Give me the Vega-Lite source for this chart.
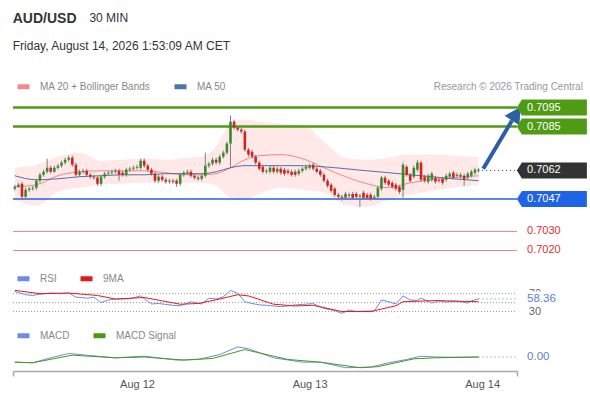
{
  "$schema": "https://vega.github.io/schema/vega-lite/v6.json",
  "padding": {"left": 11, "top": 12, "right": 5, "bottom": 8},
  "background": "white",
  "title": {
    "text": "AUD/USD",
    "subtitle": ["\u200b\u00a0\u00a0\u00a0\u00a0\u00a0\u00a0\u00a0\u00a0\u00a0\u00a0\u00a0\u00a0\u00a0\u00a0\u00a0\u00a0\u00a0\u00a0\u00a0\u00a0\u00a0\u00a0\u00a030 MIN", "Friday, August 14, 2026 1:53:09 AM CET"],
    "anchor": "start",
    "dx": 1,
    "fontSize": 14,
    "fontWeight": "bold",
    "color": "#333333",
    "subtitleFontSize": 12,
    "subtitleColor": "#333333",
    "subtitleLineHeight": 28,
    "subtitlePadding": -13,
    "offset": 26
  },
  "datasets": {
    "candles": [
      {"i": -34, "o": 0.70524, "h": 0.70545, "l": 0.70513, "c": 0.70534},
      {"i": -33, "o": 0.70534, "h": 0.70555, "l": 0.70529, "c": 0.70545},
      {"i": -32, "o": 0.70550, "h": 0.70561, "l": 0.70471, "c": 0.70482},
      {"i": -31, "o": 0.70482, "h": 0.70529, "l": 0.70471, "c": 0.70518},
      {"i": -30, "o": 0.70518, "h": 0.70534, "l": 0.70508, "c": 0.70524},
      {"i": -29, "o": 0.70524, "h": 0.70539, "l": 0.70513, "c": 0.70529},
      {"i": -28, "o": 0.70529, "h": 0.70576, "l": 0.70518, "c": 0.70566},
      {"i": -27, "o": 0.70566, "h": 0.70608, "l": 0.70555, "c": 0.70597},
      {"i": -26, "o": 0.70597, "h": 0.70624, "l": 0.70587, "c": 0.70613},
      {"i": -25, "o": 0.70613, "h": 0.70682, "l": 0.70603, "c": 0.70634},
      {"i": -24, "o": 0.70634, "h": 0.70645, "l": 0.70603, "c": 0.70613},
      {"i": -23, "o": 0.70613, "h": 0.70645, "l": 0.70608, "c": 0.70634},
      {"i": -22, "o": 0.70634, "h": 0.70655, "l": 0.70624, "c": 0.70645},
      {"i": -21, "o": 0.70645, "h": 0.70671, "l": 0.70634, "c": 0.70661},
      {"i": -20, "o": 0.70661, "h": 0.70687, "l": 0.70650, "c": 0.70676},
      {"i": -19, "o": 0.70676, "h": 0.70697, "l": 0.70666, "c": 0.70687},
      {"i": -18, "o": 0.70687, "h": 0.70697, "l": 0.70639, "c": 0.70650},
      {"i": -17, "o": 0.70650, "h": 0.70661, "l": 0.70587, "c": 0.70597},
      {"i": -16, "o": 0.70597, "h": 0.70624, "l": 0.70587, "c": 0.70613},
      {"i": -15, "o": 0.70613, "h": 0.70629, "l": 0.70603, "c": 0.70618},
      {"i": -14, "o": 0.70618, "h": 0.70629, "l": 0.70587, "c": 0.70597},
      {"i": -13, "o": 0.70597, "h": 0.70608, "l": 0.70576, "c": 0.70587},
      {"i": -12, "o": 0.70587, "h": 0.70597, "l": 0.70571, "c": 0.70582},
      {"i": -11, "o": 0.70582, "h": 0.70592, "l": 0.70539, "c": 0.70550},
      {"i": -10, "o": 0.70550, "h": 0.70597, "l": 0.70539, "c": 0.70587},
      {"i": -9, "o": 0.70587, "h": 0.70613, "l": 0.70576, "c": 0.70603},
      {"i": -8, "o": 0.70603, "h": 0.70618, "l": 0.70592, "c": 0.70608},
      {"i": -7, "o": 0.70608, "h": 0.70624, "l": 0.70597, "c": 0.70613},
      {"i": -6, "o": 0.70613, "h": 0.70629, "l": 0.70603, "c": 0.70618},
      {"i": -5, "o": 0.70618, "h": 0.70629, "l": 0.70566, "c": 0.70597},
      {"i": -4, "o": 0.70608, "h": 0.70618, "l": 0.70587, "c": 0.70597},
      {"i": -3, "o": 0.70597, "h": 0.70634, "l": 0.70587, "c": 0.70624},
      {"i": -2, "o": 0.70624, "h": 0.70639, "l": 0.70613, "c": 0.70629},
      {"i": -1, "o": 0.70629, "h": 0.70645, "l": 0.70618, "c": 0.70634},
      {"i": 0, "o": 0.70634, "h": 0.70650, "l": 0.70624, "c": 0.70639},
      {"i": 1, "o": 0.70634, "h": 0.70682, "l": 0.70624, "c": 0.70671},
      {"i": 2, "o": 0.70671, "h": 0.70682, "l": 0.70634, "c": 0.70645},
      {"i": 3, "o": 0.70645, "h": 0.70655, "l": 0.70613, "c": 0.70624},
      {"i": 4, "o": 0.70624, "h": 0.70634, "l": 0.70592, "c": 0.70603},
      {"i": 5, "o": 0.70603, "h": 0.70613, "l": 0.70555, "c": 0.70566},
      {"i": 6, "o": 0.70566, "h": 0.70597, "l": 0.70555, "c": 0.70587},
      {"i": 7, "o": 0.70587, "h": 0.70597, "l": 0.70561, "c": 0.70571},
      {"i": 8, "o": 0.70571, "h": 0.70582, "l": 0.70550, "c": 0.70561},
      {"i": 9, "o": 0.70561, "h": 0.70576, "l": 0.70550, "c": 0.70566},
      {"i": 10, "o": 0.70566, "h": 0.70576, "l": 0.70550, "c": 0.70561},
      {"i": 11, "o": 0.70566, "h": 0.70576, "l": 0.70534, "c": 0.70550},
      {"i": 12, "o": 0.70550, "h": 0.70608, "l": 0.70539, "c": 0.70597},
      {"i": 13, "o": 0.70597, "h": 0.70618, "l": 0.70587, "c": 0.70608},
      {"i": 14, "o": 0.70608, "h": 0.70624, "l": 0.70597, "c": 0.70613},
      {"i": 15, "o": 0.70613, "h": 0.70624, "l": 0.70582, "c": 0.70592},
      {"i": 16, "o": 0.70592, "h": 0.70603, "l": 0.70571, "c": 0.70582},
      {"i": 17, "o": 0.70582, "h": 0.70592, "l": 0.70566, "c": 0.70576},
      {"i": 18, "o": 0.70576, "h": 0.70603, "l": 0.70566, "c": 0.70592},
      {"i": 19, "o": 0.70592, "h": 0.70713, "l": 0.70582, "c": 0.70645},
      {"i": 20, "o": 0.70645, "h": 0.70666, "l": 0.70634, "c": 0.70655},
      {"i": 21, "o": 0.70655, "h": 0.70687, "l": 0.70645, "c": 0.70676},
      {"i": 22, "o": 0.70676, "h": 0.70687, "l": 0.70650, "c": 0.70661},
      {"i": 23, "o": 0.70661, "h": 0.70703, "l": 0.70650, "c": 0.70692},
      {"i": 24, "o": 0.70692, "h": 0.70724, "l": 0.70682, "c": 0.70713},
      {"i": 25, "o": 0.70713, "h": 0.70771, "l": 0.70703, "c": 0.70761},
      {"i": 26, "o": 0.70761, "h": 0.70908, "l": 0.70639, "c": 0.70876},
      {"i": 27, "o": 0.70876, "h": 0.70887, "l": 0.70834, "c": 0.70845},
      {"i": 28, "o": 0.70845, "h": 0.70855, "l": 0.70824, "c": 0.70834},
      {"i": 29, "o": 0.70834, "h": 0.70845, "l": 0.70813, "c": 0.70824},
      {"i": 30, "o": 0.70824, "h": 0.70834, "l": 0.70718, "c": 0.70729},
      {"i": 31, "o": 0.70729, "h": 0.70739, "l": 0.70692, "c": 0.70703},
      {"i": 32, "o": 0.70718, "h": 0.70729, "l": 0.70682, "c": 0.70692},
      {"i": 33, "o": 0.70692, "h": 0.70703, "l": 0.70650, "c": 0.70661},
      {"i": 34, "o": 0.70661, "h": 0.70671, "l": 0.70618, "c": 0.70629},
      {"i": 35, "o": 0.70639, "h": 0.70650, "l": 0.70603, "c": 0.70613},
      {"i": 36, "o": 0.70613, "h": 0.70629, "l": 0.70603, "c": 0.70618},
      {"i": 37, "o": 0.70613, "h": 0.70645, "l": 0.70603, "c": 0.70634},
      {"i": 38, "o": 0.70634, "h": 0.70645, "l": 0.70603, "c": 0.70613},
      {"i": 39, "o": 0.70613, "h": 0.70639, "l": 0.70603, "c": 0.70629},
      {"i": 40, "o": 0.70629, "h": 0.70639, "l": 0.70597, "c": 0.70608},
      {"i": 41, "o": 0.70624, "h": 0.70634, "l": 0.70592, "c": 0.70603},
      {"i": 42, "o": 0.70618, "h": 0.70629, "l": 0.70597, "c": 0.70608},
      {"i": 43, "o": 0.70613, "h": 0.70624, "l": 0.70587, "c": 0.70597},
      {"i": 44, "o": 0.70613, "h": 0.70624, "l": 0.70587, "c": 0.70597},
      {"i": 45, "o": 0.70603, "h": 0.70629, "l": 0.70592, "c": 0.70618},
      {"i": 46, "o": 0.70618, "h": 0.70639, "l": 0.70608, "c": 0.70629},
      {"i": 47, "o": 0.70629, "h": 0.70650, "l": 0.70618, "c": 0.70639},
      {"i": 48, "o": 0.70634, "h": 0.70655, "l": 0.70624, "c": 0.70645},
      {"i": 49, "o": 0.70650, "h": 0.70661, "l": 0.70618, "c": 0.70629},
      {"i": 50, "o": 0.70629, "h": 0.70639, "l": 0.70603, "c": 0.70613},
      {"i": 51, "o": 0.70618, "h": 0.70629, "l": 0.70587, "c": 0.70597},
      {"i": 52, "o": 0.70597, "h": 0.70608, "l": 0.70555, "c": 0.70566},
      {"i": 53, "o": 0.70566, "h": 0.70576, "l": 0.70529, "c": 0.70539},
      {"i": 54, "o": 0.70545, "h": 0.70555, "l": 0.70503, "c": 0.70513},
      {"i": 55, "o": 0.70524, "h": 0.70534, "l": 0.70482, "c": 0.70492},
      {"i": 56, "o": 0.70492, "h": 0.70503, "l": 0.70471, "c": 0.70482},
      {"i": 57, "o": 0.70482, "h": 0.70492, "l": 0.70461, "c": 0.70476},
      {"i": 58, "o": 0.70476, "h": 0.70508, "l": 0.70466, "c": 0.70497},
      {"i": 59, "o": 0.70492, "h": 0.70503, "l": 0.70476, "c": 0.70487},
      {"i": 60, "o": 0.70497, "h": 0.70508, "l": 0.70466, "c": 0.70476},
      {"i": 61, "o": 0.70497, "h": 0.70508, "l": 0.70471, "c": 0.70482},
      {"i": 62, "o": 0.70482, "h": 0.70497, "l": 0.70429, "c": 0.70487},
      {"i": 63, "o": 0.70503, "h": 0.70513, "l": 0.70466, "c": 0.70476},
      {"i": 64, "o": 0.70492, "h": 0.70503, "l": 0.70466, "c": 0.70476},
      {"i": 65, "o": 0.70492, "h": 0.70503, "l": 0.70461, "c": 0.70471},
      {"i": 66, "o": 0.70476, "h": 0.70492, "l": 0.70471, "c": 0.70482},
      {"i": 67, "o": 0.70482, "h": 0.70539, "l": 0.70471, "c": 0.70529},
      {"i": 68, "o": 0.70524, "h": 0.70592, "l": 0.70513, "c": 0.70582},
      {"i": 69, "o": 0.70582, "h": 0.70592, "l": 0.70545, "c": 0.70555},
      {"i": 70, "o": 0.70566, "h": 0.70576, "l": 0.70534, "c": 0.70545},
      {"i": 71, "o": 0.70555, "h": 0.70566, "l": 0.70524, "c": 0.70534},
      {"i": 72, "o": 0.70545, "h": 0.70555, "l": 0.70513, "c": 0.70524},
      {"i": 73, "o": 0.70534, "h": 0.70545, "l": 0.70497, "c": 0.70508},
      {"i": 74, "o": 0.70518, "h": 0.70661, "l": 0.70476, "c": 0.70650},
      {"i": 75, "o": 0.70639, "h": 0.70650, "l": 0.70587, "c": 0.70597},
      {"i": 76, "o": 0.70597, "h": 0.70608, "l": 0.70555, "c": 0.70566},
      {"i": 77, "o": 0.70587, "h": 0.70645, "l": 0.70576, "c": 0.70634},
      {"i": 78, "o": 0.70624, "h": 0.70676, "l": 0.70613, "c": 0.70661},
      {"i": 79, "o": 0.70661, "h": 0.70671, "l": 0.70561, "c": 0.70571},
      {"i": 80, "o": 0.70587, "h": 0.70597, "l": 0.70555, "c": 0.70566},
      {"i": 81, "o": 0.70561, "h": 0.70603, "l": 0.70550, "c": 0.70592},
      {"i": 82, "o": 0.70571, "h": 0.70613, "l": 0.70561, "c": 0.70603},
      {"i": 83, "o": 0.70582, "h": 0.70592, "l": 0.70550, "c": 0.70561},
      {"i": 84, "o": 0.70571, "h": 0.70582, "l": 0.70555, "c": 0.70566},
      {"i": 85, "o": 0.70576, "h": 0.70587, "l": 0.70545, "c": 0.70555},
      {"i": 86, "o": 0.70571, "h": 0.70603, "l": 0.70561, "c": 0.70592},
      {"i": 87, "o": 0.70587, "h": 0.70613, "l": 0.70576, "c": 0.70603},
      {"i": 88, "o": 0.70608, "h": 0.70618, "l": 0.70571, "c": 0.70582},
      {"i": 89, "o": 0.70597, "h": 0.70608, "l": 0.70582, "c": 0.70592},
      {"i": 90, "o": 0.70587, "h": 0.70608, "l": 0.70576, "c": 0.70597},
      {"i": 91, "o": 0.70592, "h": 0.70603, "l": 0.70539, "c": 0.70571},
      {"i": 92, "o": 0.70582, "h": 0.70613, "l": 0.70571, "c": 0.70603},
      {"i": 93, "o": 0.70592, "h": 0.70624, "l": 0.70582, "c": 0.70613},
      {"i": 94, "o": 0.70608, "h": 0.70634, "l": 0.70597, "c": 0.70624},
      {"i": 95, "o": 0.70618, "h": 0.70634, "l": 0.70608, "c": 0.70624}
    ],
    "bands": [
      {"i": -34, "up": 0.70634, "lo": 0.70466, "ma20": 0.70534, "ma50": 0.70592},
      {"i": -28, "up": 0.70650, "lo": 0.70434, "ma20": 0.70545, "ma50": 0.70571},
      {"i": -22, "up": 0.70692, "lo": 0.70508, "ma20": 0.70592, "ma50": 0.70576},
      {"i": -16, "up": 0.70713, "lo": 0.70529, "ma20": 0.70613, "ma50": 0.70587},
      {"i": -10, "up": 0.70671, "lo": 0.70545, "ma20": 0.70618, "ma50": 0.70592},
      {"i": -4, "up": 0.70676, "lo": 0.70550, "ma20": 0.70618, "ma50": 0.70597},
      {"i": 2, "up": 0.70682, "lo": 0.70555, "ma20": 0.70618, "ma50": 0.70597},
      {"i": 8, "up": 0.70676, "lo": 0.70555, "ma20": 0.70608, "ma50": 0.70603},
      {"i": 14, "up": 0.70687, "lo": 0.70555, "ma20": 0.70597, "ma50": 0.70603},
      {"i": 18, "up": 0.70692, "lo": 0.70555, "ma20": 0.70597, "ma50": 0.70603},
      {"i": 22, "up": 0.70745, "lo": 0.70539, "ma20": 0.70603, "ma50": 0.70613},
      {"i": 26, "up": 0.70866, "lo": 0.70476, "ma20": 0.70634, "ma50": 0.70634},
      {"i": 30, "up": 0.70887, "lo": 0.70466, "ma20": 0.70676, "ma50": 0.70645},
      {"i": 34, "up": 0.70876, "lo": 0.70497, "ma20": 0.70697, "ma50": 0.70645},
      {"i": 40, "up": 0.70866, "lo": 0.70529, "ma20": 0.70703, "ma50": 0.70645},
      {"i": 46, "up": 0.70861, "lo": 0.70518, "ma20": 0.70682, "ma50": 0.70645},
      {"i": 52, "up": 0.70771, "lo": 0.70503, "ma20": 0.70634, "ma50": 0.70639},
      {"i": 58, "up": 0.70687, "lo": 0.70439, "ma20": 0.70587, "ma50": 0.70629},
      {"i": 64, "up": 0.70676, "lo": 0.70429, "ma20": 0.70550, "ma50": 0.70618},
      {"i": 70, "up": 0.70687, "lo": 0.70466, "ma20": 0.70529, "ma50": 0.70608},
      {"i": 76, "up": 0.70703, "lo": 0.70492, "ma20": 0.70555, "ma50": 0.70597},
      {"i": 82, "up": 0.70703, "lo": 0.70513, "ma20": 0.70571, "ma50": 0.70587},
      {"i": 88, "up": 0.70697, "lo": 0.70529, "ma20": 0.70582, "ma50": 0.70576},
      {"i": 95, "up": 0.70692, "lo": 0.70545, "ma20": 0.70592, "ma50": 0.70566}
    ],
    "levels": [
      {"p": 0.7095, "t": "0.7095", "k": "res"},
      {"p": 0.7085, "t": "0.7085", "k": "res"},
      {"p": 0.7062, "t": "0.7062", "k": "last"},
      {"p": 0.7047, "t": "0.7047", "k": "sup"},
      {"p": 0.7030, "t": "0.7030", "k": "lvl"},
      {"p": 0.7020, "t": "0.7020", "k": "lvl"}
    ],
    "arrow": [
      {"i": 96.3, "p": 0.70629, "i2": 104.3, "p2": 0.70882}
    ],
    "rsi": [
      {"i": -34, "s": "RSI", "v": 75}, {"i": -31, "s": "RSI", "v": 67.7}, {"i": -29, "s": "RSI", "v": 66},
      {"i": -27, "s": "RSI", "v": 69}, {"i": -24, "s": "RSI", "v": 71.5}, {"i": -21, "s": "RSI", "v": 70},
      {"i": -19, "s": "RSI", "v": 71.5}, {"i": -17, "s": "RSI", "v": 62.4}, {"i": -14, "s": "RSI", "v": 60},
      {"i": -12, "s": "RSI", "v": 62}, {"i": -10, "s": "RSI", "v": 50}, {"i": -8, "s": "RSI", "v": 56},
      {"i": -6, "s": "RSI", "v": 58}, {"i": -2, "s": "RSI", "v": 58.5}, {"i": 1, "s": "RSI", "v": 65},
      {"i": 4, "s": "RSI", "v": 47}, {"i": 6, "s": "RSI", "v": 48}, {"i": 8, "s": "RSI", "v": 46},
      {"i": 10, "s": "RSI", "v": 44}, {"i": 12, "s": "RSI", "v": 43}, {"i": 15, "s": "RSI", "v": 52},
      {"i": 18, "s": "RSI", "v": 47}, {"i": 20, "s": "RSI", "v": 60}, {"i": 22, "s": "RSI", "v": 58},
      {"i": 24, "s": "RSI", "v": 63}, {"i": 26, "s": "RSI", "v": 77.5}, {"i": 28, "s": "RSI", "v": 71},
      {"i": 30, "s": "RSI", "v": 52}, {"i": 32, "s": "RSI", "v": 48}, {"i": 34, "s": "RSI", "v": 45},
      {"i": 36, "s": "RSI", "v": 44}, {"i": 38, "s": "RSI", "v": 42.5}, {"i": 40, "s": "RSI", "v": 41},
      {"i": 42, "s": "RSI", "v": 42.5}, {"i": 44, "s": "RSI", "v": 45}, {"i": 46, "s": "RSI", "v": 46},
      {"i": 49, "s": "RSI", "v": 47.7}, {"i": 52, "s": "RSI", "v": 37}, {"i": 55, "s": "RSI", "v": 32},
      {"i": 57, "s": "RSI", "v": 26}, {"i": 59, "s": "RSI", "v": 33.5}, {"i": 61, "s": "RSI", "v": 30},
      {"i": 63, "s": "RSI", "v": 31}, {"i": 66, "s": "RSI", "v": 31}, {"i": 68, "s": "RSI", "v": 56},
      {"i": 70, "s": "RSI", "v": 52}, {"i": 72, "s": "RSI", "v": 47}, {"i": 74, "s": "RSI", "v": 65},
      {"i": 76, "s": "RSI", "v": 56}, {"i": 78, "s": "RSI", "v": 55}, {"i": 79, "s": "RSI", "v": 60},
      {"i": 82, "s": "RSI", "v": 49}, {"i": 84, "s": "RSI", "v": 54}, {"i": 86, "s": "RSI", "v": 51},
      {"i": 88, "s": "RSI", "v": 53}, {"i": 90, "s": "RSI", "v": 52}, {"i": 92, "s": "RSI", "v": 49},
      {"i": 93, "s": "RSI", "v": 54}, {"i": 95, "s": "RSI", "v": 58.36},
      {"i": -34, "s": "9MA", "v": 77.5}, {"i": -27, "s": "9MA", "v": 70}, {"i": -19, "s": "9MA", "v": 71.5},
      {"i": -11, "s": "9MA", "v": 66}, {"i": -6, "s": "9MA", "v": 58}, {"i": 2, "s": "9MA", "v": 61.5},
      {"i": 12, "s": "9MA", "v": 46.4}, {"i": 17, "s": "9MA", "v": 48}, {"i": 23, "s": "9MA", "v": 58},
      {"i": 28, "s": "9MA", "v": 67.7}, {"i": 31, "s": "9MA", "v": 65}, {"i": 38, "s": "9MA", "v": 46.4},
      {"i": 44, "s": "9MA", "v": 42.5}, {"i": 49, "s": "9MA", "v": 44}, {"i": 57, "s": "9MA", "v": 30},
      {"i": 65, "s": "9MA", "v": 30}, {"i": 72, "s": "9MA", "v": 43}, {"i": 74, "s": "9MA", "v": 52},
      {"i": 83, "s": "9MA", "v": 54.6}, {"i": 95, "s": "9MA", "v": 52}
    ],
    "macd": [
      {"i": -34, "s": "MACD", "v": -0.00025}, {"i": -29, "s": "MACD", "v": -0.00028}, {"i": -24, "s": "MACD", "v": -0.00004},
      {"i": -19, "s": "MACD", "v": 0.00017}, {"i": -13, "s": "MACD", "v": 0.00007}, {"i": -6, "s": "MACD", "v": -0.00004},
      {"i": 2, "s": "MACD", "v": 0.00004}, {"i": 11, "s": "MACD", "v": -0.00015}, {"i": 17, "s": "MACD", "v": -0.00012},
      {"i": 23, "s": "MACD", "v": 0.00012}, {"i": 28, "s": "MACD", "v": 0.00049}, {"i": 31, "s": "MACD", "v": 0.0004},
      {"i": 38, "s": "MACD", "v": -0.00004}, {"i": 46, "s": "MACD", "v": -0.00025}, {"i": 51, "s": "MACD", "v": -0.00025},
      {"i": 58, "s": "MACD", "v": -0.00052}, {"i": 65, "s": "MACD", "v": -0.00049}, {"i": 70, "s": "MACD", "v": -0.00028},
      {"i": 75, "s": "MACD", "v": -0.00012}, {"i": 79, "s": "MACD", "v": 0.00004}, {"i": 83, "s": "MACD", "v": 0.0},
      {"i": 88, "s": "MACD", "v": -0.00001}, {"i": 95, "s": "MACD", "v": 0.0},
      {"i": -34, "s": "MACD Signal", "v": -0.00025}, {"i": -29, "s": "MACD Signal", "v": -0.00028},
      {"i": -18, "s": "MACD Signal", "v": 0.00009}, {"i": -6, "s": "MACD Signal", "v": -0.00004},
      {"i": 2, "s": "MACD Signal", "v": 0.0}, {"i": 13, "s": "MACD Signal", "v": -0.00015},
      {"i": 21, "s": "MACD Signal", "v": -0.00007}, {"i": 30, "s": "MACD Signal", "v": 0.00036},
      {"i": 42, "s": "MACD Signal", "v": -0.00012}, {"i": 51, "s": "MACD Signal", "v": -0.00025},
      {"i": 62, "s": "MACD Signal", "v": -0.00052}, {"i": 67, "s": "MACD Signal", "v": -0.00047},
      {"i": 77, "s": "MACD Signal", "v": -0.00009}, {"i": 83, "s": "MACD Signal", "v": -0.00004},
      {"i": 95, "s": "MACD Signal", "v": 0.0}
    ],
    "rsigrid": [{"v": 70}, {"v": 50}, {"v": 30}],
    "rsiticks": [{"v": 70}, {"v": 30}]
  },
  "spacing": 27,
  "bounds": "flush",
  "resolve": {"scale": {"color": "independent"}, "legend": {"color": "independent"}},
  "vconcat": [
    {
      "width": 504,
      "height": 162,
      "title": {"text": "Research \u00a9 2026 Trading Central", "anchor": "end", "fontSize": 10, "fontWeight": "normal", "color": "#999999", "dx": -4, "offset": -14},
      "layer": [
        {
          "data": {"name": "bands"},
          "mark": {"type": "area", "color": "#fddede", "opacity": 0.7, "interpolate": "monotone"},
          "encoding": {
            "x": {"field": "i", "type": "quantitative", "scale": {"domain": [-34.5, 105.7], "nice": false, "zero": false}, "axis": null},
            "y": {"field": "up", "type": "quantitative", "scale": {"domain": [0.7015, 0.7100], "nice": false, "zero": false}, "axis": null},
            "y2": {"field": "lo"}
          }
        },
        {
          "data": {"name": "bands"},
          "transform": [{"fold": ["ma20", "ma50"], "as": ["k", "v"]}],
          "mark": {"type": "line", "strokeWidth": 1, "interpolate": "monotone", "opacity": 0.85},
          "encoding": {
            "x": {"field": "i", "type": "quantitative"},
            "y": {"field": "v", "type": "quantitative"},
            "color": {
              "field": "k", "type": "nominal",
              "scale": {"domain": ["ma20", "ma50"], "range": ["#f77474", "#335c9e"]},
              "legend": {"title": null, "legendX": 2, "legendY": -20, "labelExpr": "datum.label == 'ma20' ? 'MA 20 + Bollinger Bands' : 'MA 50'"}
            }
          }
        },
        {
          "data": {"name": "levels"},
          "transform": [{"filter": "datum.k == 'res'"}],
          "mark": {"type": "rule", "color": "#4f9b14", "strokeWidth": 2.5},
          "encoding": {"x": {"datum": -34.5, "type": "quantitative"}, "x2": {"datum": 105.7}, "y": {"field": "p", "type": "quantitative"}}
        },
        {
          "data": {"name": "levels"},
          "transform": [{"filter": "datum.k == 'sup'"}],
          "mark": {"type": "rule", "color": "#1f64e6", "strokeWidth": 1.5},
          "encoding": {"x": {"datum": -34.5, "type": "quantitative"}, "x2": {"datum": 105.7}, "y": {"field": "p", "type": "quantitative"}}
        },
        {
          "data": {"name": "levels"},
          "transform": [{"filter": "datum.k == 'lvl'"}],
          "mark": {"type": "rule", "color": "#e58787", "strokeWidth": 1},
          "encoding": {"x": {"datum": -34.5, "type": "quantitative"}, "x2": {"datum": 105.7}, "y": {"field": "p", "type": "quantitative"}}
        },
        {
          "data": {"name": "levels"},
          "transform": [{"filter": "datum.k == 'last'"}],
          "mark": {"type": "rule", "color": "#333333", "strokeWidth": 1, "strokeDash": [1, 3]},
          "encoding": {"x": {"datum": 96, "type": "quantitative"}, "x2": {"datum": 105.7}, "y": {"field": "p", "type": "quantitative"}}
        },
        {
          "data": {"name": "candles"},
          "mark": {"type": "rule", "color": "#808080", "strokeWidth": 1},
          "encoding": {"x": {"field": "i", "type": "quantitative"}, "y": {"field": "l", "type": "quantitative"}, "y2": {"field": "h"}}
        },
        {
          "data": {"name": "candles"},
          "mark": {"type": "rule", "strokeWidth": 2.6, "strokeCap": "butt"},
          "encoding": {
            "x": {"field": "i", "type": "quantitative"},
            "y": {"field": "o", "type": "quantitative"},
            "y2": {"field": "c"},
            "color": {"condition": {"test": "datum.c >= datum.o", "value": "#3a8a2c"}, "value": "#d2231e"}
          }
        },
        {
          "data": {"name": "arrow"},
          "mark": {"type": "rule", "color": "#2d5fa3", "strokeWidth": 4, "strokeCap": "butt"},
          "encoding": {
            "x": {"field": "i", "type": "quantitative"},
            "y": {"field": "p", "type": "quantitative"},
            "x2": {"field": "i2"},
            "y2": {"field": "p2"}
          }
        },
        {
          "data": {"name": "arrow"},
          "mark": {"type": "point", "shape": "M0,-1L0.55,0L-0.55,0Z", "size": 1024, "angle": 33, "filled": true, "color": "#2d5fa3", "opacity": 1},
          "encoding": {
            "x": {"field": "i2", "type": "quantitative"},
            "y": {"field": "p2", "type": "quantitative"}
          }
        },
        {
          "data": {"name": "levels"},
          "transform": [{"filter": "datum.k != 'lvl'"}],
          "mark": {"type": "point", "shape": "M-1,0L-0.857,-0.229L1,-0.229L1,0.229L-0.857,0.229Z", "size": 4900, "filled": true, "opacity": 1},
          "encoding": {
            "x": {"datum": 115.4, "type": "quantitative"},
            "y": {"field": "p", "type": "quantitative"},
            "color": {"condition": [{"test": "datum.k == 'res'", "value": "#4f9b14"}, {"test": "datum.k == 'sup'", "value": "#1f64e6"}], "value": "#333333"}
          }
        },
        {
          "data": {"name": "levels"},
          "mark": {"type": "text", "align": "left", "baseline": "middle", "fontSize": 11},
          "encoding": {
            "x": {"datum": 108.5, "type": "quantitative"},
            "y": {"field": "p", "type": "quantitative"},
            "text": {"field": "t"},
            "color": {"condition": {"test": "datum.k == 'lvl'", "value": "#e0302a"}, "value": "#ffffff"}
          }
        }
      ]
    },
    {
      "width": 504,
      "height": 29,
      "layer": [
        {
          "data": {"name": "rsigrid"},
          "mark": {"type": "rule", "color": "#999999", "strokeWidth": 1, "strokeDash": [1, 2]},
          "encoding": {
            "x": {"datum": -34.5, "type": "quantitative", "scale": {"domain": [-34.5, 105.7], "nice": false, "zero": false}, "axis": null},
            "x2": {"datum": 105.7},
            "y": {"field": "v", "type": "quantitative", "scale": {"domain": [20, 85], "nice": false, "zero": false}, "axis": null}
          }
        },
        {
          "data": {"name": "rsi"},
          "mark": {"type": "line", "strokeWidth": 1},
          "encoding": {
            "x": {"field": "i", "type": "quantitative"},
            "y": {"field": "v", "type": "quantitative"},
            "color": {
              "field": "s", "type": "nominal",
              "scale": {"domain": ["RSI", "9MA"], "range": ["#6b8de6", "#e41a1a"]},
              "legend": {"title": null, "legendX": 2, "legendY": -17}
            }
          }
        },
        {
          "data": {"name": "rsi"},
          "transform": [{"filter": "datum.s == 'RSI' && datum.i == 95"}],
          "mark": {"type": "rule", "color": "#5b80e0", "strokeWidth": 1, "strokeDash": [1, 3]},
          "encoding": {"x": {"field": "i", "type": "quantitative"}, "x2": {"datum": 105.7}, "y": {"field": "v", "type": "quantitative"}}
        },
        {
          "data": {"name": "rsiticks"},
          "mark": {"type": "text", "align": "left", "baseline": "middle", "fontSize": 11, "color": "#666666"},
          "encoding": {"x": {"datum": 109, "type": "quantitative"}, "y": {"field": "v", "type": "quantitative"}, "text": {"field": "v", "type": "quantitative"}}
        },
        {
          "data": {"name": "rsi"},
          "transform": [{"filter": "datum.s == 'RSI' && datum.i == 95"}],
          "mark": {"type": "point", "shape": "M-1,-0.5H1V0.5H-1Z", "size": 900, "filled": true, "color": "#ffffff", "opacity": 1},
          "encoding": {"x": {"datum": 113, "type": "quantitative"}, "y": {"field": "v", "type": "quantitative"}}
        },
        {
          "data": {"name": "rsi"},
          "transform": [{"filter": "datum.s == 'RSI' && datum.i == 95"}],
          "mark": {"type": "text", "align": "left", "baseline": "middle", "fontSize": 11.5, "color": "#5b80e0"},
          "encoding": {"x": {"datum": 108.5, "type": "quantitative"}, "y": {"field": "v", "type": "quantitative"}, "text": {"field": "v", "type": "quantitative", "format": ".2f"}}
        }
      ]
    },
    {
      "width": 504,
      "height": 28,
      "layer": [
        {
          "data": {"name": "macd"},
          "mark": {"type": "line", "strokeWidth": 1},
          "encoding": {
            "x": {
              "field": "i", "type": "quantitative",
              "scale": {"domain": [-34.5, 105.7], "nice": false, "zero": false},
              "axis": {
                "values": [-34.5, 0, 48, 96, 105.7],
                "labelExpr": "datum.value == 0 ? 'Aug 12' : datum.value == 48 ? 'Aug 13' : datum.value == 96 ? 'Aug 14' : ''",
                "title": null, "grid": false, "domainColor": "#aaaaaa", "domainWidth": 1.5, "tickColor": "#aaaaaa", "tickWidth": 1.5, "tickSize": 5,
                "tickOpacity": {"condition": {"test": "datum.value < -30 || datum.value > 100", "value": 1}, "value": 0},
                "labelColor": "#555555", "labelFontSize": 11, "labelPadding": 2
              }
            },
            "y": {"field": "v", "type": "quantitative", "scale": {"domain": [-0.00068, 0.00068], "nice": false, "zero": false}, "axis": null},
            "color": {
              "field": "s", "type": "nominal",
              "scale": {"domain": ["MACD", "MACD Signal"], "range": ["#6b8de6", "#4a9a12"]},
              "legend": {"title": null, "legendX": 2, "legendY": -16}
            }
          }
        },
        {
          "data": {"name": "macd"},
          "transform": [{"filter": "datum.s == 'MACD' && datum.i == 95"}],
          "mark": {"type": "rule", "color": "#5b80e0", "strokeWidth": 1, "strokeDash": [1, 3]},
          "encoding": {"x": {"field": "i", "type": "quantitative"}, "x2": {"datum": 105.7}, "y": {"field": "v", "type": "quantitative"}}
        },
        {
          "data": {"name": "macd"},
          "transform": [{"filter": "datum.s == 'MACD' && datum.i == 95"}],
          "mark": {"type": "text", "align": "left", "baseline": "middle", "fontSize": 11.5, "color": "#5b80e0"},
          "encoding": {"x": {"datum": 108.5, "type": "quantitative"}, "y": {"field": "v", "type": "quantitative"}, "text": {"field": "v", "type": "quantitative", "format": ".2f"}}
        }
      ]
    }
  ],
  "config": {
    "font": "Liberation Sans",
    "view": {"stroke": null},
    "legend": {
      "orient": "none", "direction": "horizontal", "columns": 2,
      "labelFontSize": 10, "labelColor": "#888888", "labelOffset": 8, "columnPadding": 13,
      "symbolType": "stroke", "symbolStrokeWidth": 5, "symbolSize": 144
    }
  }
}
